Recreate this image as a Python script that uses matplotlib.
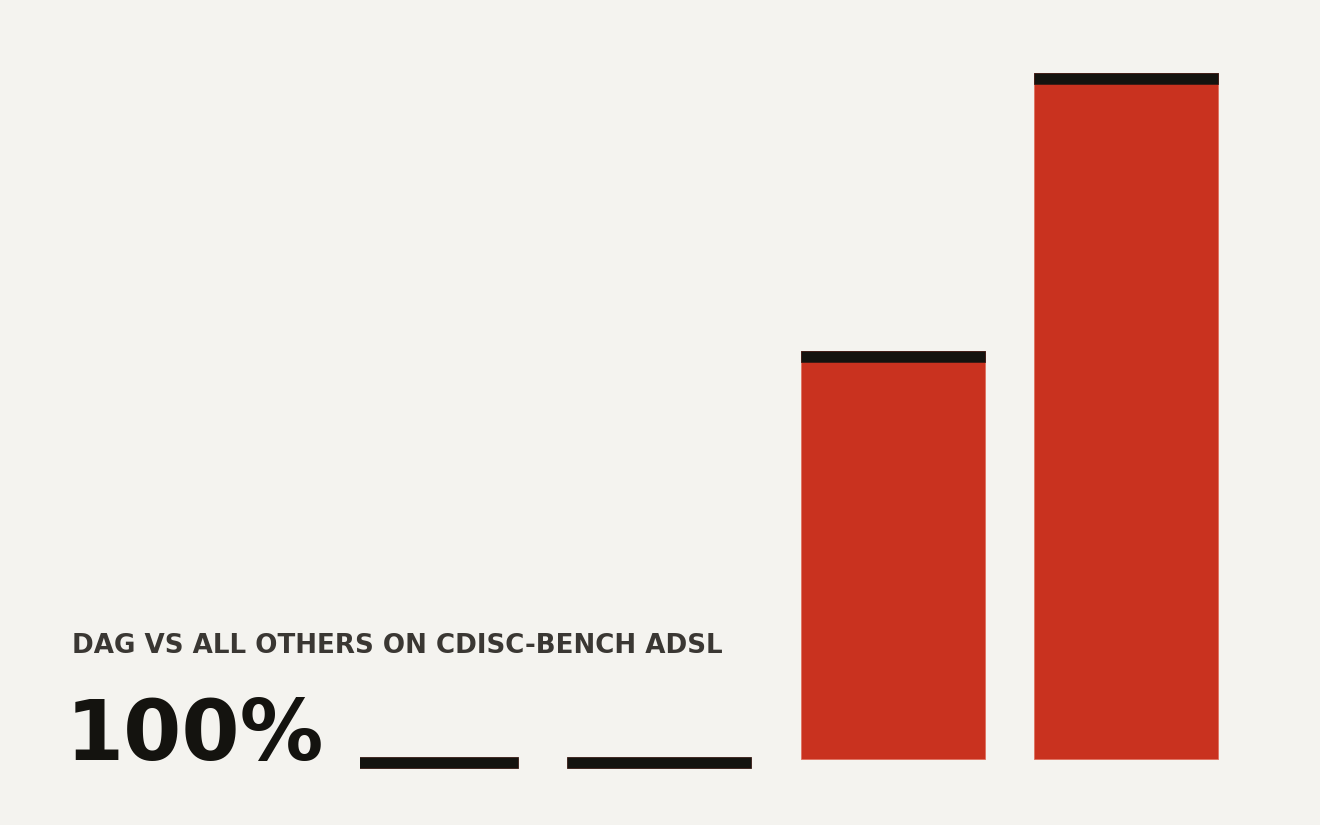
import matplotlib
matplotlib.use("Agg")
import matplotlib.pyplot as plt

# Data
categories = ["A", "B", "C", "DAG"]
values = [0, 0, 59.4, 100]
title_text = "DAG VS ALL OTHERS ON CDISC-BENCH ADSL"
big_text = "100%"

BG = "#f4f3ef"
RED = "#c9321f"
INK = "#14130f"
GREY = "#3a3733"

W, H = 1320, 825
fig = plt.figure(figsize=(W / 100, H / 100), dpi=100, facecolor=BG)

ax_left = 360 / W
ax_right = 1266 / W
ax = fig.add_axes([ax_left, 0, ax_right - ax_left, 1])
ax.set_facecolor(BG)
ax.patch.set_alpha(0)

xs = list(range(len(categories)))
width = 0.788
base_px = 757.0
px_per_unit = (base_px - 73) / 100.0
ylo = -(825 - base_px) / px_per_unit
yhi = base_px / px_per_unit
ax.set_ylim(ylo, yhi)
ax.set_xlim(-0.283, 3.6)

red_off = 1.7 / px_per_unit
ax.bar(xs, [v + red_off if v > 0 else 0 for v in values], bottom=-red_off,
       width=width, color=RED, edgecolor="#e0705e", linewidth=0.6, zorder=2)
cap_h = 11.2 / px_per_unit
ax.bar(xs, [cap_h] * len(values), bottom=[v - cap_h for v in values], width=width,
       color=INK, edgecolor="#3a1a14", linewidth=0.6, zorder=3)

ax.axis("off")

fig.text(72 / W, 1 - 653 / H, title_text, fontsize=18.8, fontweight="bold",
         color=GREY, family="DejaVu Sans", va="baseline", ha="left")
fig.text(66 / W, 1 - 760 / H, big_text, fontsize=60.2, fontweight="bold",
         color=INK, family="DejaVu Sans", va="baseline", ha="left")

fig.savefig("out.png", dpi=100, facecolor=BG)
